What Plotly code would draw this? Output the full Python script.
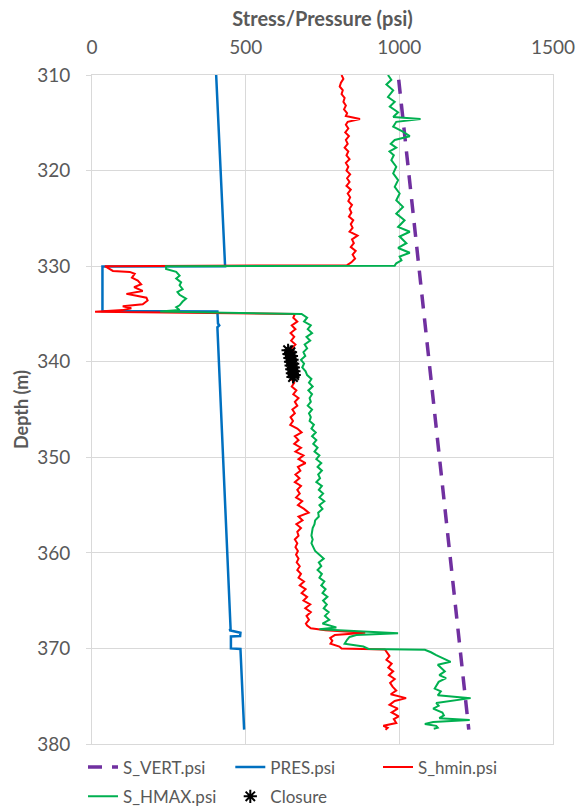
import plotly.graph_objects as go

# ---------------- data ----------------
svert_depth = [310.5, 378.5]
svert_psi = [998, 1226]

pres_depth = [310.0, 330.0, 330.05, 334.7, 334.75, 336.0, 336.2, 336.4, 368.0, 368.1, 368.35, 368.7, 368.75, 370.0, 370.05, 378.5]
pres_psi = [404, 433, 34, 34, 408, 410, 414, 408, 451, 447, 483, 482, 452, 452, 483, 495]

hmin_depth = [
    310.0, 310.4, 310.8, 311.2, 311.6, 312.0, 312.4, 312.8, 313.2, 313.6, 314.0, 314.3, 314.6, 314.9,
    315.2, 315.6, 316.0, 316.4, 316.8, 317.2, 317.6, 318.0, 318.4, 318.8, 319.2, 319.6, 320.0, 320.4,
    320.8, 321.2, 321.6, 322.0, 322.4, 322.8, 323.2, 323.6, 324.0, 324.4, 324.8, 325.2, 325.6, 326.0,
    326.4, 326.8, 327.2, 327.6, 328.0, 328.4, 328.8, 329.2, 329.6, 329.9, 330.0,
    330.5, 330.6, 330.8, 331.2, 331.5, 331.9, 332.2, 332.6, 332.9, 333.1, 333.3, 333.6, 334.0, 334.2,
    334.4, 334.6, 334.73, 334.76,
    335.0, 335.4, 335.8, 336.2, 336.6, 337.0, 337.4, 337.8, 338.2, 338.6, 339.0, 339.4, 339.8, 340.2,
    340.6, 341.0, 341.4, 341.8, 342.2, 342.6, 343.0, 343.4, 343.8, 344.2, 344.6, 345.0, 345.4, 345.8,
    346.2, 346.6, 347.0, 347.4, 347.8, 348.2, 348.6, 349.0, 349.4, 349.8, 350.2, 350.6, 351.0, 351.4,
    351.8, 352.2, 352.6, 353.0, 353.4, 353.8, 354.2, 354.6, 355.0, 355.4, 355.8, 356.2, 356.6, 357.0,
    357.4, 357.8, 358.2, 358.6, 359.0, 359.4, 359.8, 360.2, 360.6, 361.0, 361.4, 361.8, 362.2, 362.6,
    363.0, 363.4, 363.8, 364.2, 364.6, 365.0, 365.4, 365.8, 366.2, 366.6, 367.0, 367.4, 367.6, 367.9,
    368.1, 368.35, 368.6, 368.9, 369.2, 369.5, 369.8, 370.0, 370.1, 370.4, 370.8, 371.2, 371.6, 372.0,
    372.4, 372.8, 373.2, 373.6, 374.0, 374.4, 374.8, 375.2, 375.5, 375.9, 376.3, 376.7, 377.1, 377.4,
    377.8, 378.1, 378.3, 378.5,
]
hmin_psi = [
    812, 818, 810, 806, 816, 812, 822, 818, 826, 820, 830, 826, 872, 832,
    826, 834, 824, 836, 826, 832, 822, 834, 828, 838, 826, 834, 828, 840,
    830, 838, 828, 842, 832, 840, 834, 846, 838, 844, 836, 850, 842, 848,
    838, 864, 846, 852, 842, 858, 848, 856, 844, 830, 42,
    68, 123, 139, 130, 149, 160, 137, 165, 112, 145, 177, 181, 165, 100,
    128, 100, 10, 10,
    660, 655, 668, 650, 662, 646, 658, 648, 662, 650, 655, 645, 652, 644,
    650, 642, 655, 648, 658, 650, 665, 655, 672, 660, 668, 652, 660, 646,
    654, 645, 668, 682, 660, 672, 658, 680, 662, 688, 672, 695, 670, 678,
    662, 675, 660, 680, 668, 676, 664, 684, 670, 690, 705, 672, 685, 665,
    680, 668, 672, 660, 668, 662, 670, 664, 672, 666, 676, 668, 680, 672,
    690, 676, 695, 682, 700, 688, 710, 694, 712, 698, 706, 696, 700, 712,
    760, 889, 790, 775, 782, 776, 805, 812, 953, 960, 968, 958, 975, 964,
    980, 966, 985, 970, 978, 990, 972, 1022, 985, 968, 995, 975, 998, 982,
    990, 948, 962, 955,
]

hmax_depth = [
    310.0, 310.5, 311.0, 311.6, 312.3, 312.8, 313.3, 313.9, 314.4, 314.6, 314.9, 315.4, 315.9, 316.4,
    316.8, 317.2, 317.6, 318.0, 318.4, 318.9, 319.6, 320.3, 321.0, 321.7, 322.4, 323.1, 323.8, 324.5, 325.2, 325.9,
    326.4, 326.9, 327.6, 328.1, 328.6, 329.0, 329.4, 329.7, 329.95, 330.0,
    330.3, 330.6, 331.0, 331.3, 331.7, 332.0, 332.4, 332.7, 333.0, 333.4, 333.7, 334.1, 334.3, 334.6,
    334.73, 334.76,
    335.0, 335.4, 335.8, 336.2, 336.6, 337.0, 337.4, 337.8, 338.2, 338.6, 339.0, 339.4, 339.8, 340.2,
    340.6, 341.0, 341.4, 341.8, 342.2, 342.6, 343.0, 343.4, 343.8, 344.2, 344.6, 345.0, 345.4, 345.8,
    346.2, 346.6, 347.0, 347.4, 347.8, 348.2, 348.6, 349.0, 349.4, 349.8, 350.2, 350.6, 351.0, 351.4,
    351.8, 352.2, 352.6, 353.0, 353.4, 353.8, 354.2, 354.6, 355.0, 355.4, 355.8, 356.2, 356.6, 357.0,
    357.4, 357.8, 358.2, 358.6, 359.0, 359.4, 359.8, 360.2, 360.6, 361.0, 361.4, 361.8, 362.2, 362.6,
    363.0, 363.4, 363.8, 364.2, 364.6, 365.0, 365.4, 365.8, 366.2, 366.6, 367.0, 367.4, 367.8, 368.0,
    368.4, 368.6, 368.8, 369.1, 369.5, 369.8, 370.05, 370.15, 370.4, 370.7, 371.0, 371.4, 371.7, 372.0,
    372.4, 372.8, 373.1, 373.5, 373.9, 374.2, 374.5, 374.9, 375.2, 375.5, 375.7, 376.0, 376.3, 376.7,
    377.0, 377.3, 377.5, 377.7, 377.9, 378.1, 378.3, 378.4,
]
hmax_psi = [
    963, 974, 958, 980, 963, 985, 969, 996, 980, 1069, 990, 980, 1010, 1034,
    985, 972, 990, 968, 982, 974, 990, 980, 996, 985, 1001, 990, 1012, 990, 1017, 996,
    1034, 1001, 1023, 996, 1034, 1001, 1007, 990, 985, 241,
    241, 274, 285, 274, 290, 285, 295, 278, 285, 306, 295, 285, 274, 285,
    225, 225,
    682, 700, 690, 712, 702, 716, 698, 710, 692, 700, 688, 694, 680, 690,
    684, 695, 700, 714, 706, 718, 704, 716, 708, 712, 702, 716, 706, 712,
    708, 722, 714, 728, 716, 730, 720, 734, 724, 740, 730, 746, 734, 748,
    736, 742, 730, 748, 738, 752, 740, 756, 740, 750, 736, 738, 726, 724,
    718, 716, 714, 718, 714, 720, 726, 740, 754, 738, 746, 734, 748, 740,
    756, 746, 760, 750, 766, 752, 764, 754, 770, 758, 772, 750, 795, 740,
    996, 860, 838, 830, 822, 883, 900, 1083, 1103, 1120, 1140, 1167, 1125, 1135,
    1148, 1130, 1152, 1128, 1120, 1115, 1135, 1125, 1232, 1160, 1120, 1128, 1110, 1140,
    1145, 1130, 1229, 1110, 1083, 1120, 1125, 1112,
]

closure_depth = [338.8, 339.0, 339.2, 339.4, 339.6, 339.8, 340.0, 340.2, 340.4, 340.6, 340.8, 341.0, 341.2, 341.4, 341.6]
closure_psi = [638, 646, 641, 649, 644, 651, 646, 653, 648, 655, 650, 657, 652, 658, 654]

x_ticks = [0, 500, 1000, 1500]
y_ticks = [310, 320, 330, 340, 350, 360, 370, 380]

# ---------------- figure ----------------
FONT = "Lato"
GREY = "#595959"
GRID = "#d9d9d9"

fig = go.Figure()
fig.add_trace(go.Scatter(x=svert_psi, y=svert_depth, mode="lines", name="S_VERT.psi", legend="legend",
                         line=dict(color="#7030A0", width=3.5, dash="14px,10px")))
fig.add_trace(go.Scatter(x=pres_psi, y=pres_depth, mode="lines", name="PRES.psi", legend="legend2",
                         line=dict(color="#0070C0", width=2.5)))
fig.add_trace(go.Scatter(x=hmin_psi, y=hmin_depth, mode="lines", name="S_hmin.psi", legend="legend3",
                         line=dict(color="#FF0000", width=2)))
fig.add_trace(go.Scatter(x=hmax_psi, y=hmax_depth, mode="lines", name="S_HMAX.psi", legend="legend4",
                         line=dict(color="#00B050", width=2)))
fig.add_trace(go.Scatter(x=closure_psi, y=closure_depth, mode="markers", name="Closure", legend="legend5",
                         marker=dict(symbol="asterisk-open", size=11, color="black",
                                     line=dict(color="black", width=2))))

def leg(x, y):
    return dict(orientation="h", x=x, xanchor="left", y=y, yanchor="top", itemwidth=30,
                bgcolor="rgba(0,0,0,0)", font=dict(family=FONT, size=17, color=GREY))

ROW1, ROW2 = -0.008, -0.052
fig.update_layout(
    width=577, height=809,
    margin=dict(l=92, r=24, t=75, b=65, autoexpand=False),
    paper_bgcolor="white", plot_bgcolor="white",
    font=dict(family=FONT, size=19, color=GREY),
    showlegend=True,
    legend=leg(-0.0195, ROW1),
    legend2=leg(0.3, ROW1),
    legend3=leg(0.6204, ROW1),
    legend4=leg(-0.0195, ROW2),
    legend5=leg(0.3, ROW2),
    xaxis=dict(side="top", range=[0, 1500], tickvals=x_ticks, showgrid=True, gridcolor=GRID,
               gridwidth=1, zeroline=False, showline=True, linecolor=GRID, mirror=True,
               ticks="", tickfont=dict(size=19, color=GREY), automargin=False, ticklabelstandoff=12,
               title=dict(text="<b>Stress/Pressure (psi)</b>", font=dict(size=20, color=GREY), standoff=3)),
    yaxis=dict(range=[380, 310], tickvals=y_ticks, showgrid=True, gridcolor=GRID, gridwidth=1,
               zeroline=False, showline=True, linecolor=GRID, mirror=True, automargin=False,
               ticks="outside", ticklen=5, tickcolor=GRID, tickfont=dict(size=19, color=GREY),
               ticklabelstandoff=12,
               title=dict(text="<b>Depth (m)</b>", font=dict(size=18, color=GREY), standoff=3)),
)

fig.write_html("out.html", config={"displayModeBar": False},
               post_script="document.body.style.margin='0';document.body.style.overflow='hidden';")
